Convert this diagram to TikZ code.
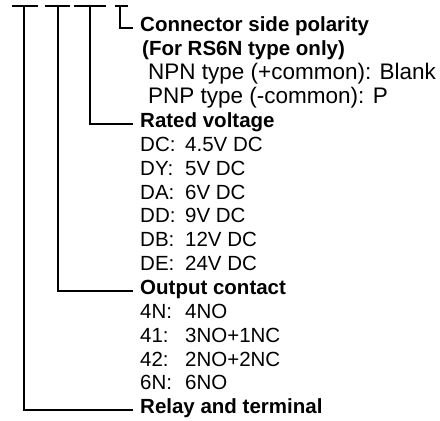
\documentclass[tikz,border=0pt]{standalone}
\usepackage{fontspec}
\setmainfont{Liberation Sans}
\begin{document}
\begin{tikzpicture}[x=1pt,y=-1pt,
  txt/.style={anchor=west,inner sep=0pt,text height=0.716em,text depth=0pt,font=\fontsize{20.5}{24}\selectfont},
  widetxt/.style={txt,font=\fontsize{22.5}{24}\selectfont},
  head/.style={txt,font=\fontsize{20.5}{24}\selectfont\bfseries},
  bar/.style={line width=1.3pt},
  lead/.style={line width=1.1pt}]
\useasboundingbox (0,0) rectangle (440,421);
% top bars
\draw[bar] (12,6) -- (38,6);
\draw[bar] (45,6) -- (70,6);
\draw[bar] (74,6) -- (106,6);
\draw[bar] (115,6) -- (128,6);
\coordinate (b1) at (24,6);
\coordinate (b2) at (58,6);
\coordinate (b3) at (90,6);
\coordinate (b4) at (120,6);
% texts
\node[head] (conn) at (140,28) {Connector side polarity};
\node[head] (forrs) at (142,52) {(For RS6N type only)};
\node[widetxt] (npn) at (148,76) {NPN type (+common): Blank};
\node[widetxt] (pnp) at (148,100) {PNP type (-common): P};
\node[head] (rated) at (140,124) {Rated voltage};
\node[txt] (dc) at (140,148) {\makebox[45pt][l]{DC:}4.5V DC};
\node[txt] (dy) at (140,171.5) {\makebox[45pt][l]{DY:}5V DC};
\node[txt] (da) at (140,195.5) {\makebox[45pt][l]{DA:}6V DC};
\node[txt] (dd) at (140,219) {\makebox[45pt][l]{DD:}9V DC};
\node[txt] (db) at (140,243) {\makebox[45pt][l]{DB:}12V DC};
\node[txt] (de) at (140,267) {\makebox[45pt][l]{DE:}24V DC};
\node[head] (out) at (140,291) {Output contact};
\node[txt] (c4n) at (140,315) {\makebox[45pt][l]{4N:}4NO};
\node[txt] (c41) at (140,338.5) {\makebox[45pt][l]{41:}3NO+1NC};
\node[txt] (c42) at (140,362.5) {\makebox[45pt][l]{42:}2NO+2NC};
\node[txt] (c6n) at (140,386) {\makebox[45pt][l]{6N:}6NO};
\node[head] (relay) at (140,410) {Relay and terminal};
% leaders
\draw[lead] (b4) |- ([xshift=-7pt]conn.west);
\draw[lead] (b3) |- ([xshift=-7pt]rated.west);
\draw[lead] (b2) |- ([xshift=-7pt]out.west);
\draw[lead] (b1) |- ([xshift=-7pt]relay.west);
\end{tikzpicture}
\end{document}
